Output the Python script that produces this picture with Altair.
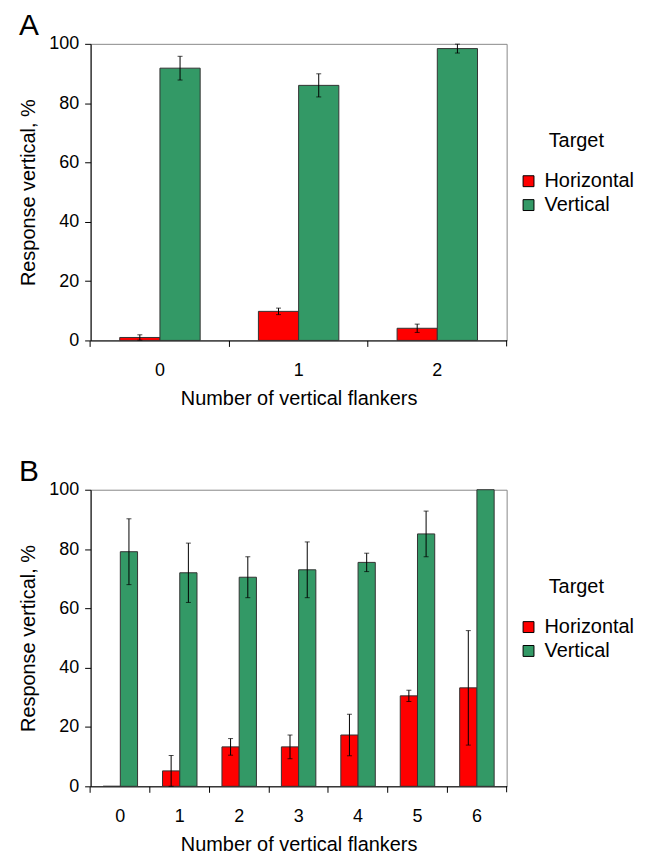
import altair as alt
import pandas as pd

FONT = "Liberation Sans"

targets = ["Horizontal", "Vertical"]
colors = ["#ff0000", "#339966"]

# Panel A
A_categories = ["0", "1", "2"]
A_horizontal = [1.0, 9.8, 4.1]
A_horizontal_err = [0.9, 1.1, 1.4]
A_vertical = [91.8, 86.0, 98.4]
A_vertical_err = [4.0, 3.9, 1.5]

# Panel B
B_categories = ["0", "1", "2", "3", "4", "5", "6"]
B_horizontal = [0.0, 5.2, 13.3, 13.3, 17.3, 30.5, 33.2]
B_horizontal_err = [0.0, 5.2, 2.8, 4.0, 7.0, 1.9, 19.3]
B_vertical = [79.1, 72.0, 70.5, 73.0, 75.5, 85.1, 100.0]
B_vertical_err = [11.1, 10.0, 6.9, 9.4, 3.1, 7.7, 0.0]

y_ticks = [0, 20, 40, 60, 80, 100]

W = 418
H = 298
PAD_IN = 0.42
PAD_OUT = PAD_IN / 2
# place x ticks on the boundaries between categories
TICK_BAND = -PAD_OUT / (1 - PAD_IN)


def make_df(cats, h, he, v, ve):
    rows = []
    for c, a, ae, b, be in zip(cats, h, he, v, ve):
        rows.append({"cat": c, "target": "Horizontal", "value": a, "err": ae})
        rows.append({"cat": c, "target": "Vertical", "value": b, "err": be})
    return pd.DataFrame(rows)


def make_panel(cats, h, he, v, ve, letter, legend_y):
    df = make_df(cats, h, he, v, ve)
    x = alt.X(
        "cat:N",
        sort=cats,
        scale=alt.Scale(paddingInner=PAD_IN, paddingOuter=PAD_OUT),
        axis=alt.Axis(
            title="Number of vertical flankers",
            labelAngle=0,
            bandPosition=TICK_BAND,
            tickSize=6,
            labelPadding=15,
            titlePadding=9,
            labelFontSize=18,
            titleFontSize=20,
            titleFontWeight="normal",
            domainColor="black",
            tickColor="black",
            labelColor="black",
            titleColor="black",
        ),
    )
    xo = alt.XOffset(
        "target:N", sort=targets, scale=alt.Scale(paddingInner=0, paddingOuter=0)
    )
    base = alt.Chart(df).encode(x=x, xOffset=xo)
    bars = base.mark_bar(stroke="#333333", strokeWidth=1).encode(
        y=alt.Y(
            "value:Q",
            scale=alt.Scale(domain=[0, 100], nice=False),
            axis=alt.Axis(
                values=y_ticks,
                title="Response vertical, %",
                grid=False,
                tickSize=6,
                labelPadding=6,
                titlePadding=10,
                labelFontSize=18,
                titleFontSize=20,
                titleFontWeight="normal",
                domainColor="black",
                tickColor="black",
                labelColor="black",
                titleColor="black",
            ),
        ),
        color=alt.Color(
            "target:N",
            scale=alt.Scale(domain=targets, range=colors),
            legend=alt.Legend(
                title="Target",
                orient="none",
                legendX=430,
                legendY=legend_y,
                titleFontSize=20,
                titleFontWeight="normal",
                titleAnchor="middle",
                titlePadding=20,
                labelFontSize=20,
                symbolType="square",
                symbolSize=120,
                symbolStrokeColor="black",
                symbolStrokeWidth=1,
                labelOffset=6,
                rowPadding=4,
                titleColor="black",
                labelColor="black",
            ),
        ),
    )
    eb = base.transform_filter("datum.err > 0").transform_calculate(
        lo="datum.value - datum.err", hi="datum.value + datum.err"
    )
    rule = eb.mark_rule(color="black", strokeWidth=1).encode(
        y="lo:Q", y2="hi:Q"
    )
    cap_lo = eb.mark_tick(color="black", size=5, thickness=1).encode(y="lo:Q")
    cap_hi = eb.mark_tick(color="black", size=5, thickness=1).encode(y="hi:Q")
    end_tick = alt.Chart().mark_rule(color="black", strokeWidth=1).encode(
        x=alt.value(W), y=alt.value(H), y2=alt.value(H + 6)
    )
    return alt.layer(bars, rule, cap_lo, cap_hi, end_tick).properties(
        width=W,
        height=H,
        title=alt.TitleParams(
            letter,
            anchor="start",
            frame="bounds",
            fontSize=30,
            fontWeight="normal",
            color="black",
            offset=-6,
        ),
    )


pA = make_panel(A_categories, A_horizontal, A_horizontal_err, A_vertical,
                A_vertical_err, "A", 88)
pB = make_panel(B_categories, B_horizontal, B_horizontal_err, B_vertical,
                B_vertical_err, "B", 88)

chart = (
    alt.vconcat(pA, pB, spacing=47)
    .resolve_scale(x="independent", xOffset="independent")
    .resolve_legend(color="independent")
    .properties(padding={"left": 10, "top": 0, "right": 5, "bottom": 0})
    .configure(font=FONT)
    .configure_view(stroke="#888888", strokeWidth=1)
)

chart.save("out.html", embed_options={"renderer": "svg", "actions": False})
